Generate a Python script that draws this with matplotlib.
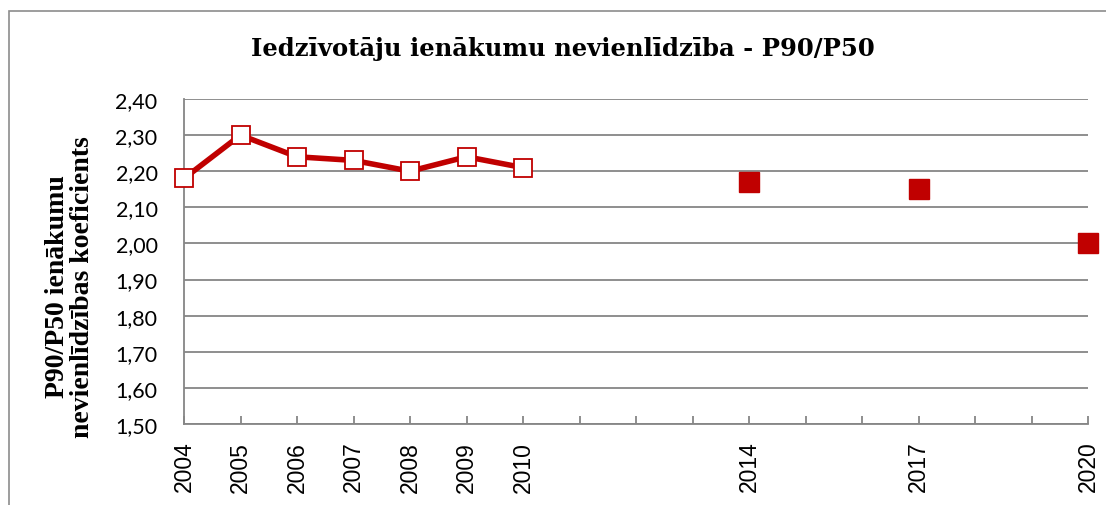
import matplotlib.pyplot as plt
from matplotlib.patches import Rectangle
from matplotlib.ticker import FixedLocator, FuncFormatter

# data
years_line = [2004, 2005, 2006, 2007, 2008, 2009, 2010]
values_line = [2.18, 2.30, 2.24, 2.23, 2.20, 2.24, 2.21]
years_est = [2014, 2017, 2020]
values_est = [2.17, 2.15, 2.00]
labeled_years = [2004, 2005, 2006, 2007, 2008, 2009, 2010, 2014, 2017, 2020]

title = "Iedzīvotāju ienākumu nevienlīdzība - P90/P50"
ylabel = "P90/P50 ienākumu\nnevienlīdzības koeficients"

red = "#C00000"
grid_col = "#868686"

fig = plt.figure(figsize=(11.06, 5.06), dpi=100)
fig.patches.append(Rectangle((9 / 1106, -0.1), 1.2, 1 - 12 / 506 + 0.1,
                             transform=fig.transFigure, fill=False,
                             edgecolor="#8c8c8c", linewidth=1.2, zorder=0))

ax = fig.add_axes([184 / 1106, 81 / 506, 904 / 1106, 325 / 506])

ax.plot(years_line, values_line, color=red, lw=4, marker="s", ms=13,
        mfc="white", mec=red, mew=1.3, zorder=3, clip_on=False)
ax.plot(years_est, values_est, ls="none", marker="s", ms=14,
        mfc=red, mec=red, zorder=3, clip_on=False)

ax.set_xlim(2004, 2020)
ax.set_ylim(1.5, 2.4)
ax.set_yticks([1.5 + 0.1 * i for i in range(10)])
ax.yaxis.set_major_formatter(FuncFormatter(lambda v, p: f"{v:.2f}".replace(".", ",")))
ax.xaxis.set_major_locator(FixedLocator(list(range(2004, 2021))))
ax.xaxis.set_major_formatter(FuncFormatter(
    lambda v, p: str(int(round(v))) if int(round(v)) in labeled_years else ""))

ax.grid(axis="y", color=grid_col, lw=1.3)
ax.set_axisbelow(True)
for s in ["top", "right"]:
    ax.spines[s].set_visible(False)
for s in ["left", "bottom"]:
    ax.spines[s].set_color(grid_col)
    ax.spines[s].set_linewidth(1.3)

ax.tick_params(axis="y", length=0, pad=19, labelsize=15.5)
ax.tick_params(axis="x", direction="in", length=6, color=grid_col, width=1.3,
               pad=12, labelsize=16.5, labelrotation=90)
for lab in ax.get_yticklabels():
    lab.set_fontfamily("Lato")
for lab in ax.get_xticklabels():
    lab.set_fontfamily("Liberation Sans")

fig.text(0.509, 0.903, title, ha="center", va="center", fontsize=17.5,
         fontweight="bold", family="DejaVu Serif")
fig.text(70 / 1106, 0.433, ylabel, ha="center", va="center", rotation=90,
         fontsize=20, fontweight="bold", family="Liberation Serif",
         linespacing=1.05)

fig.savefig("out.png", dpi=100)
